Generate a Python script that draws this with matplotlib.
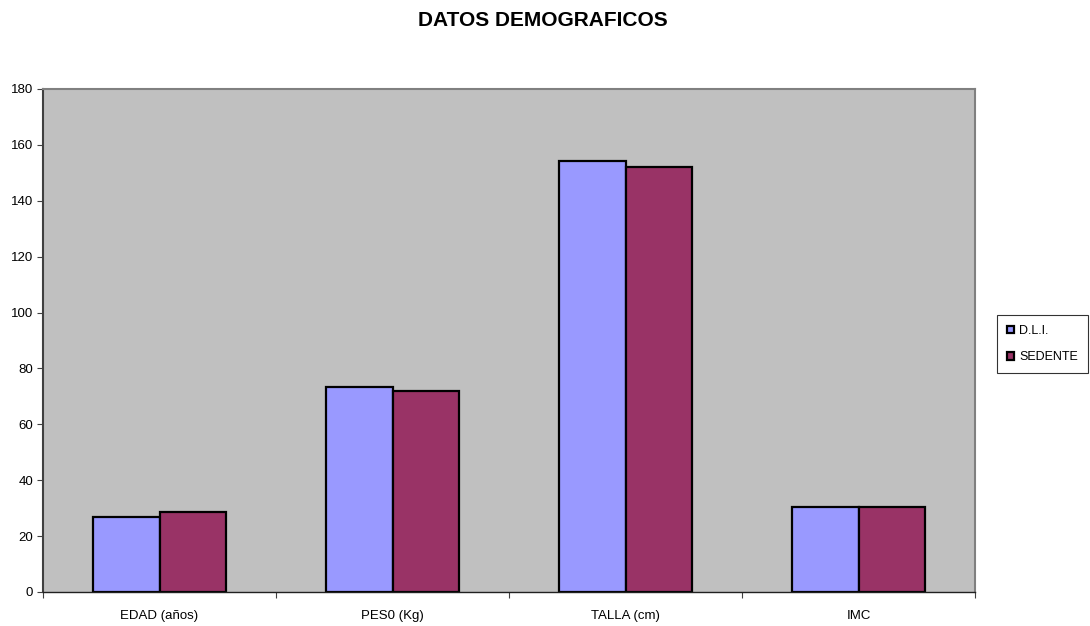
import numpy as np
import matplotlib.pyplot as plt

plt.rcParams['font.family'] = ['Liberation Sans', 'DejaVu Sans']

categorias = ['EDAD (años)', 'PES0 (Kg)', 'TALLA (cm)', 'IMC']
dli = [26.7, 73.3, 154.2, 30.3]
sedente = [28.8, 71.9, 152.2, 30.3]

fig = plt.figure(figsize=(10.9, 6.26), dpi=100)
ax = fig.add_axes([43 / 1090, 1 - 592 / 626, 932 / 1090, 503 / 626])
ax.set_facecolor('#C0C0C0')

x = np.arange(len(categorias))
w = 1 / 3.5
ax.bar(x - w / 2, dli, w, color='#9999FF', edgecolor='black', linewidth=1.6, label='D.L.I.')
ax.bar(x + w / 2, sedente, w, color='#993366', edgecolor='black', linewidth=1.6, label='SEDENTE')

ax.set_xlim(-0.5, len(categorias) - 0.5)
ax.set_ylim(0, 180)
ax.set_yticks(range(0, 181, 20))
ax.tick_params(axis='y', labelsize=9.5, length=4, color='#404040', pad=3)

# separadores de categoria en el eje x
ax.set_xticks(np.arange(len(categorias) + 1) - 0.5)
ax.set_xticklabels([])
ax.set_xticks(x, minor=True)
ax.set_xticklabels(categorias, minor=True)
ax.tick_params(axis='x', which='major', length=4, color='#404040')
ax.tick_params(axis='x', which='minor', length=0, labelsize=9.5, pad=13)

for s in ['top', 'right']:
    ax.spines[s].set_color('#808080')
    ax.spines[s].set_linewidth(1.5)
ax.spines['left'].set_color('#404040')
ax.spines['left'].set_linewidth(1.5)
ax.spines['bottom'].set_color('#202020')
ax.spines['bottom'].set_linewidth(1)

fig.text(543 / 1090, 1 - 21 / 626, 'DATOS DEMOGRAFICOS', ha='center', va='center',
         fontsize=15, fontweight='bold')

leg = ax.legend(loc='center left', bbox_to_anchor=(997 / 1090, 1 - 344 / 626),
                bbox_transform=fig.transFigure, fontsize=9, frameon=True, fancybox=False,
                edgecolor='black', handlelength=0.55, handleheight=0.55, handletextpad=0.45,
                borderpad=0.8, labelspacing=1.15, borderaxespad=0)
leg.get_frame().set_linewidth(0.8)

fig.savefig('out.png', dpi=100, facecolor='white')
